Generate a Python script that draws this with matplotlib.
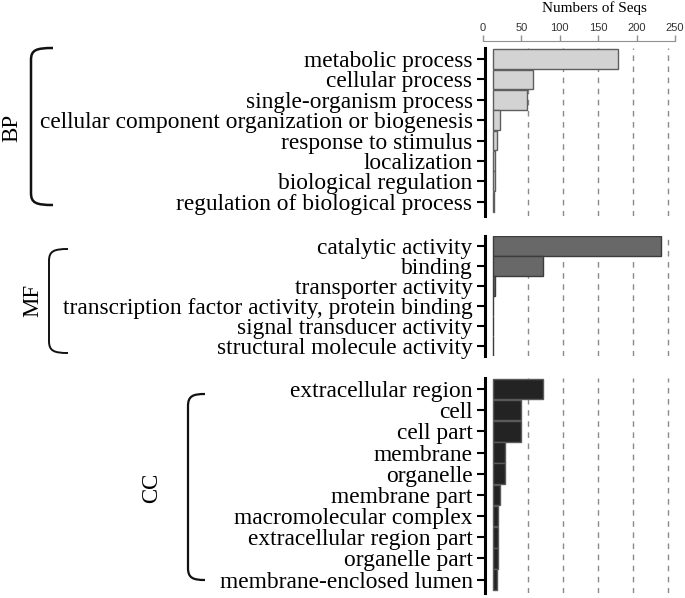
import matplotlib
matplotlib.use("Agg")
import matplotlib.pyplot as plt
from matplotlib.path import Path
from matplotlib.patches import PathPatch

# GO annotation counts
bp_terms = ["metabolic process", "cellular process", "single-organism process",
            "cellular component organization or biogenesis", "response to stimulus",
            "localization", "biological regulation", "regulation of biological process"]
bp_counts = [179, 57, 49, 10, 6, 4, 4, 2]

mf_terms = ["catalytic activity", "binding", "transporter activity",
            "transcription factor activity, protein binding",
            "signal transducer activity", "structural molecule activity"]
mf_counts = [240, 72, 3, 1, 1, 1]

cc_terms = ["extracellular region", "cell", "cell part", "membrane", "organelle",
            "membrane part", "macromolecular complex", "extracellular region part",
            "organelle part", "membrane-enclosed lumen"]
cc_counts = [72, 41, 40, 18, 17, 11, 8, 8, 7, 6]

W, H = 685, 598
fig = plt.figure(figsize=(W / 100, H / 100), dpi=100)
serif = "Liberation Serif"


def rect(x0, y0, x1, y1):
    # pixel box (top-left origin) -> figure fraction
    return [x0 / W, 1 - y1 / H, (x1 - x0) / W, (y1 - y0) / H]


def panel(box, terms, counts, fill, edge, ylim):
    ax = fig.add_axes(rect(*box))
    ax.barh(range(len(terms)), counts, height=0.97, color=fill,
            edgecolor=edge, linewidth=1.0, zorder=3)
    ax.set_xlim(-11, 267.6)
    ax.set_ylim(*ylim)
    ax.set_yticks(range(len(terms)))
    ax.set_yticklabels(terms, fontsize=16.8, family=serif)
    ax.set_xticks([50, 100, 150, 200, 250])
    ax.tick_params(axis="x", length=0, labelbottom=False)
    ax.tick_params(axis="y", length=6, width=1.5, pad=3)
    ax.grid(axis="x", color="#8a8a8a", linestyle=(0, (4, 4)), linewidth=1.0, zorder=1)
    for s in ["top", "right", "bottom"]:
        ax.spines[s].set_visible(False)
    ax.spines["left"].set_linewidth(2.2)
    return ax


panel((485, 48, 680, 216), bp_terms, bp_counts, "#d3d3d3", "#5e5e5e", (7.7, -0.54))
panel((485, 236, 680, 356), mf_terms, mf_counts, "#686868", "#3c3c3c", (5.5, -0.5))
panel((485, 378, 680, 593), cc_terms, cc_counts, "#232323", "#5a5a5a", (9.63, -0.52))

# top count axis
top = fig.add_axes(rect(483, 41, 675, 45))
top.set_xlim(0, 250)
top.set_yticks([])
top.xaxis.tick_top()
top.set_xticks([0, 50, 100, 150, 200, 250])
top.tick_params(axis="x", length=4, width=1, color="#909090", pad=2,
                labelsize=8, labelcolor="#333333")
for lab in top.get_xticklabels():
    lab.set_family("Liberation Sans")
for s in ["left", "right", "bottom"]:
    top.spines[s].set_visible(False)
top.spines["top"].set_color("#909090")
top.patch.set_alpha(0)
fig.text(594 / W, 1 - 8 / H, "Numbers of Seqs", ha="center", va="center",
         fontsize=11, family=serif)


def brace(x, y0, y1, w, lw):
    r = 12
    verts = [(x + w, y0), (x + 5, y0), (x, y0 + 2), (x, y0 + r),
             (x, y1 - r),
             (x, y1 - 2), (x + 5, y1), (x + w, y1)]
    codes = [Path.MOVETO, Path.CURVE4, Path.CURVE4, Path.CURVE4,
             Path.LINETO,
             Path.CURVE4, Path.CURVE4, Path.CURVE4]
    pts = [(vx / W, 1 - vy / H) for vx, vy in verts]
    fig.add_artist(PathPatch(Path(pts, codes), fill=False, lw=lw,
                             edgecolor="#111111", transform=fig.transFigure))


brace(31, 48, 205, 22, 1.8)
brace(49, 249, 353, 19, 1.4)
brace(188, 394, 580, 17, 1.6)

fig.text(12 / W, 1 - 128 / H, "BP", rotation=90, ha="center", va="center",
         fontsize=16.5, family=serif)
fig.text(33 / W, 1 - 300 / H, "MF", rotation=90, ha="center", va="center",
         fontsize=16.5, family=serif)
fig.text(152 / W, 1 - 488 / H, "CC", rotation=90, ha="center", va="center",
         fontsize=16.5, family=serif)

fig.savefig("out.png", dpi=100)
